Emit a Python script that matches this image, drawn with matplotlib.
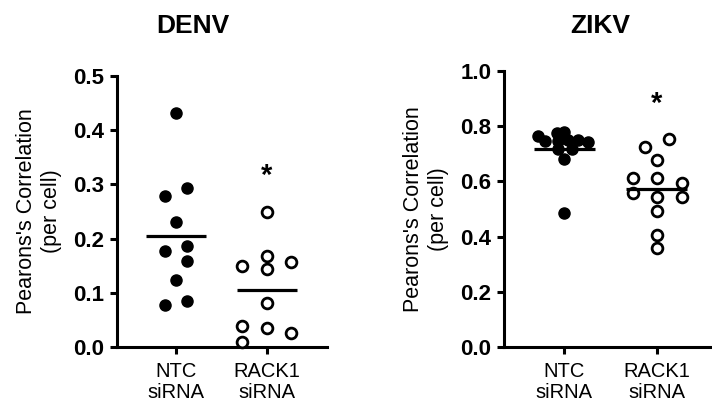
import numpy as np
import matplotlib
matplotlib.use('Agg')
from matplotlib import pyplot as plt

plt.rcParams['font.family'] = ['Liberation Sans', 'DejaVu Sans']

groups = ['NTC\nsiRNA', 'RACK1\nsiRNA']
ylabel = "Pearons's Correlation\n(per cell)"

# DENV values
denv_ntc = [0.432, 0.293, 0.279, 0.230, 0.186, 0.178, 0.158, 0.124, 0.085, 0.077]
denv_rack1 = [0.250, 0.168, 0.157, 0.150, 0.144, 0.081, 0.039, 0.035, 0.025, 0.010]
denv_means = [0.205, 0.106]
denv_star = 0.327

# ZIKV values
zikv_ntc = [0.764, 0.776, 0.779, 0.745, 0.745, 0.749, 0.749, 0.743, 0.718, 0.716, 0.680, 0.485]
zikv_rack1 = [0.755, 0.726, 0.676, 0.612, 0.612, 0.593, 0.557, 0.545, 0.545, 0.491, 0.407, 0.358]
zikv_means = [0.716, 0.573]
zikv_star = 0.902

# column scatter spread (fraction of category spacing), like the prism layout
denv_ntc_dx = [0, 0.12, -0.12, 0, 0.12, -0.12, 0.12, 0, 0.12, -0.12]
denv_rack1_dx = [0, 0, 0.27, -0.27, 0, 0, -0.27, 0, 0.27, -0.27]
zikv_ntc_dx = [-0.28, -0.08, 0, -0.21, -0.07, 0.04, 0.15, 0.26, -0.07, 0.09, 0, 0]
zikv_rack1_dx = [0.14, -0.13, 0, -0.25, 0, 0.28, -0.25, 0, 0.28, 0, 0, 0]

W, H = 712, 404
fig = plt.figure(figsize=(W / 100, H / 100), dpi=100)


def panel(rect, title, title_x, ntc, ntc_dx, rack, rack_dx, means, star, ylim, yticks, xlim):
    ax = fig.add_axes(rect)
    ax.scatter(np.array(ntc_dx), ntc, s=64, c='black', edgecolors='black', linewidths=1.0, zorder=3, clip_on=False)
    ax.scatter(1 + np.array(rack_dx), rack, s=60, c='white', edgecolors='black', linewidths=2.0, zorder=3, clip_on=False)
    for i, m in enumerate(means):
        ax.plot([i - 0.33, i + 0.33], [m, m], color='black', lw=2.3, zorder=4, solid_capstyle='butt')
    ax.annotate('*', (1, star), xytext=(0, -10), textcoords='offset points',
                ha='center', va='baseline', fontsize=21, fontweight='bold')
    ax.set_xlim(*xlim)
    ax.set_ylim(*ylim)
    ax.set_yticks(yticks)
    ax.set_yticklabels(['%.1f' % t for t in yticks], fontsize=16, fontweight='bold')
    ax.set_xticks([0, 1])
    ax.set_xticklabels(groups, fontsize=14.5, linespacing=1.15)
    ax.set_ylabel(ylabel, fontsize=15.5, labelpad=8, linespacing=1.3)
    for s in ['top', 'right']:
        ax.spines[s].set_visible(False)
    for s in ['left', 'bottom']:
        ax.spines[s].set_linewidth(2.2)
    ax.tick_params(axis='both', width=2.2, length=5, direction='out')
    ax.tick_params(axis='y', pad=4)
    ax.tick_params(axis='x', pad=5.5)
    fig.text(title_x / W, 1 - 26 / H, title, ha='center', va='center', fontsize=19, fontweight='bold')
    return ax


panel([117 / W, (H - 347) / H, 210 / W, 271 / H], 'DENV', 193,
      denv_ntc, denv_ntc_dx, denv_rack1, denv_rack1_dx, denv_means, denv_star,
      (0, 0.5), [0.0, 0.1, 0.2, 0.3, 0.4, 0.5], (-0.645, 1.66))
panel([504 / W, (H - 347) / H, 208 / W, 276 / H], 'ZIKV', 600,
      zikv_ntc, zikv_ntc_dx, zikv_rack1, zikv_rack1_dx, zikv_means, zikv_star,
      (0, 1.0), [0.0, 0.2, 0.4, 0.6, 0.8, 1.0], (-0.65, 1.6))

fig.savefig('out.png', dpi=100)
